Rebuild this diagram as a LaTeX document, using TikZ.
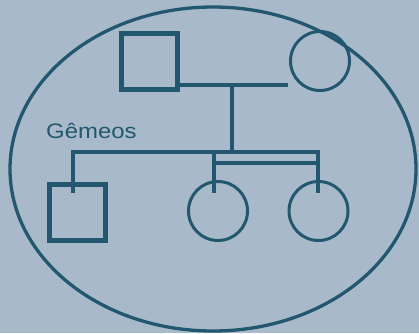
\documentclass[tikz,border=0pt]{standalone}
\usepackage{fontspec}
\setmainfont{Liberation Sans}
\definecolor{bgblue}{HTML}{A8BAC9}
\definecolor{ink}{HTML}{22586F}

\begin{document}
\begin{tikzpicture}[x=1pt,y=-1pt,
	male/.style={draw=ink, line width=5pt, minimum size=56pt, inner sep=0pt},
	female/.style={circle, draw=ink, line width=3pt, minimum size=59pt, inner sep=0pt},
	link/.style={draw=ink, line width=4.5pt, line join=miter}]
				\fill[bgblue] (0,0) rectangle (419,333);
				\useasboundingbox (0,0) rectangle (419,333);
				\draw[ink, line width=3.3pt] (213,169) ellipse [x radius=203pt, y radius=162pt];
				\node[male] (father) at (149,61) {};
				\node[female] (mother) at (320,61) {};
				\node[male] (son) at (77,212) {};
				\node[female] (twinA) at (218,211) {};
				\node[female] (twinB) at (318.5,211) {};
				\node[text=ink, font=\fontsize{21}{21}\selectfont, xscale=1.14, anchor=base west, inner sep=0pt] (twins) at (46,138) {Gêmeos};
				\coordinate (mate) at (288,85);
				\coordinate (drop) at (232,85);
				\coordinate (sibs) at (232,152);
				\coordinate (sonTop) at (73,193);
				\coordinate (aTop) at (214,193);
				\coordinate (bTop) at (318,193);
				\draw[link] (father.east |- mate) -- (mate);
				\draw[link] (drop) -- (sibs);
				\draw[link] (sonTop) -- (sonTop |- sibs) -- (bTop |- sibs) -- (bTop);
				\draw[link] (aTop |- sibs) -- (aTop);
				\draw[link] (214,163) -- (318,163);
			\end{tikzpicture}
\end{document}
